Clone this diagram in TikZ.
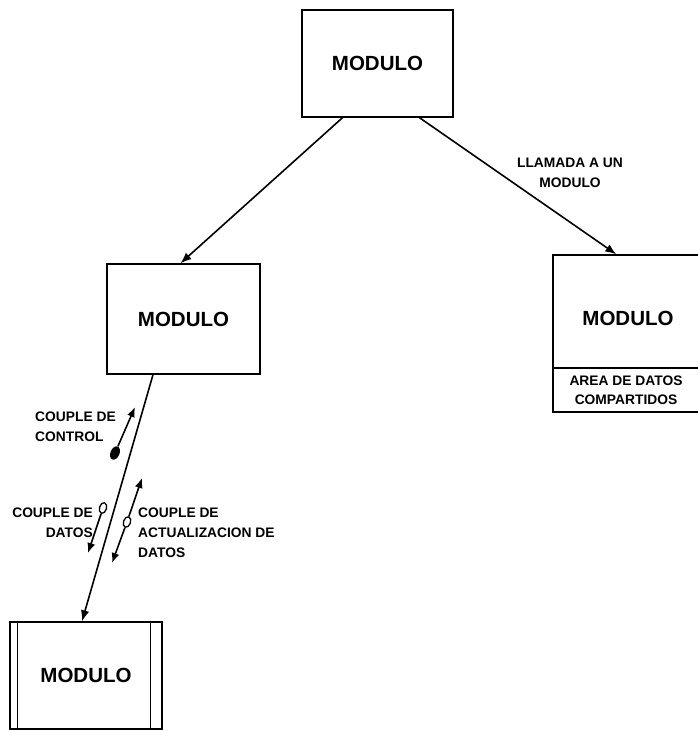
\documentclass[tikz,border=0pt]{standalone}
\usepackage{fontspec}
\setmainfont{Liberation Sans}
\usetikzlibrary{arrows.meta,shapes.geometric}
\tikzset{
  modbox/.style={draw,line width=1.4pt,rectangle,inner sep=0pt,
    font=\fontsize{20.5}{24}\selectfont\bfseries},
  lbl/.style={inner sep=0pt,font=\fontsize{13.8}{20}\selectfont\bfseries},
  conn/.style={line width=1.6pt,-{Latex[length=11pt,width=8.5pt]}},
  flow/.style={line width=1.6pt,-{Latex[length=10pt,width=8pt]}},
  dataring/.style={ellipse,draw,line width=1.3pt,inner sep=0pt,
    minimum width=11pt,minimum height=7pt},
  ctrldot/.style={ellipse,fill,inner sep=0pt,
    minimum width=14pt,minimum height=9pt}
}
\begin{document}
\begin{tikzpicture}[x=1pt,y=-1pt]
\clip (0,0) rectangle (698,731);
\fill[white] (0,0) rectangle (698,731);

% modules
\node[modbox,minimum width=151pt,minimum height=107pt] (mt) at (377.5,63.5) {MODULO};
\node[modbox,minimum width=153pt,minimum height=110pt] (mm) at (183.5,319) {MODULO};
\node[modbox,minimum width=152pt,minimum height=107pt] (mb) at (86,675.5) {MODULO};
\draw[line width=1.4pt] ([xshift=8pt]mb.north west) -- ([xshift=8pt]mb.south west);
\draw[line width=1.4pt] ([xshift=-12pt]mb.north east) -- ([xshift=-12pt]mb.south east);

% module with shared data area
\node[modbox,minimum width=157pt,minimum height=157pt] (mr) at (631.5,333.5) {};
\draw[line width=1.4pt] (mr.west |- 0,368) -- (mr.east |- 0,368);
\node[inner sep=0pt,font=\fontsize{20.5}{24}\selectfont\bfseries] (mrt) at (628,318) {MODULO};
\node[lbl,align=center,font=\fontsize{13.8}{19}\selectfont\bfseries] (mra) at (626,390) {AREA DE DATOS\\COMPARTIDOS};

% calls
\draw[conn] ([xshift=-35pt]mt.south) -- ([xshift=-3pt]mm.north);
\draw[conn] ([xshift=42pt]mt.south) -- ([xshift=64pt]mr.north west);
\node[lbl,align=center] (call) at (570,173) {LLAMADA A UN\\MODULO};
\draw[conn] ([xshift=-30.5pt]mm.south) -- ([xshift=-4pt]mb.north);

% control couple
\node[ctrldot,rotate=66.5] (cc) at (115,453) {};
\coordinate (cctip) at (135,407);
\draw[flow] (cc) -- (cctip);
\node[lbl,align=left] (cclbl) at (75.5,427) {COUPLE DE\\CONTROL};

% data couple
\node[dataring,rotate=74] (cd) at (103,508) {};
\coordinate (cdtip) at (88,553);
\draw[flow] (cd) -- (cdtip);
\node[lbl,align=right,anchor=east] (cdlbl) at (93,522.5) {COUPLE DE\\DATOS};

% update couple
\node[dataring,rotate=70.6] (cu) at (127,522) {};
\coordinate (cuup) at (142,478);
\coordinate (cudown) at (112,563);
\draw[flow] (cu) -- (cuup);
\draw[flow] (cu) -- (cudown);
\node[lbl,align=left,anchor=west] (culbl) at (138,533) {COUPLE DE\\ACTUALIZACION DE\\DATOS};
\end{tikzpicture}
\end{document}
